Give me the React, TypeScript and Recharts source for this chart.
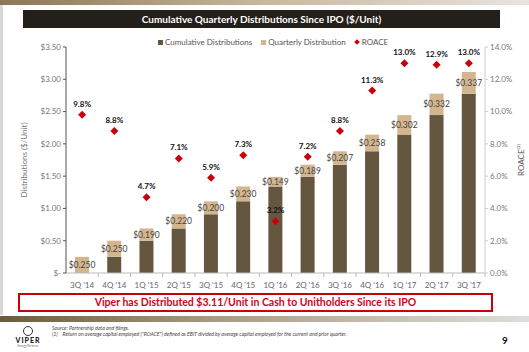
import React from 'react';
import {
  ComposedChart,
  Bar,
  Scatter,
  XAxis,
  YAxis,
  LabelList,
  Label,
} from 'recharts';

// quarters since IPO
const quarters = ["3Q '14", "4Q '14", "1Q '15", "2Q '15", "3Q '15", "4Q '15", "1Q '16", "2Q '16", "3Q '16", "4Q '16", "1Q '17", "2Q '17", "3Q '17"];
// cumulative distributions paid before each quarter ($/unit)
const cumulativePrior = [0, 0.25, 0.5, 0.69, 0.91, 1.11, 1.34, 1.489, 1.678, 1.885, 2.143, 2.445, 2.777];
// distribution for the quarter ($/unit)
const quarterlyDist = [0.25, 0.25, 0.19, 0.22, 0.2, 0.23, 0.149, 0.189, 0.207, 0.258, 0.302, 0.332, 0.337];
// ROACE (%)
const roace = [9.8, 8.8, 4.7, 7.1, 5.9, 7.3, 3.2, 7.2, 8.8, 11.3, 13.0, 12.9, 13.0];

const leftTicks = [0, 0.5, 1, 1.5, 2, 2.5, 3, 3.5];
const rightTicks = [0, 2, 4, 6, 8, 10, 12, 14];

const DARK = '#65563f';
const LIGHT = '#d4b68e';
const RED = '#c8000a';
const FONT = 'Lato, "Open Sans", sans-serif';

const data = quarters.map((q, i) => ({
  quarter: q,
  cumulative: cumulativePrior[i],
  quarterly: quarterlyDist[i],
  roace: roace[i],
}));

const RoaceDot = (props: any) => {
  const { cx, cy, payload } = props;
  if (cx == null || cy == null) return null;
  const s = 4;
  return (
    <g>
      <path
        d={`M${cx},${cy - s} L${cx + s},${cy} L${cx},${cy + s} L${cx - s},${cy} Z`}
        fill={RED}
      />
      <text
        x={cx}
        y={cy - 8}
        textAnchor="middle"
        fontSize={8}
        fontWeight={700}
        fill="#111"
        fontFamily={FONT}
      >
        {payload.roace.toFixed(1)}%
      </text>
    </g>
  );
};

const QuarterTick = (props: any) => {
  const { x, y, payload } = props;
  const half = 419 / 13 / 2;
  return (
    <g>
      <line x1={x + half} y1={y - 8} x2={x + half} y2={y - 4} stroke="#bbb" />
      <text x={x} y={y + 7} textAnchor="middle" fontSize={8} fill="#666" fontFamily={FONT}>
        {payload.value}
      </text>
    </g>
  );
};

const legendItems = [
  { label: 'Cumulative Distributions', color: DARK, shape: 'square' },
  { label: 'Quarterly Distribution', color: LIGHT, shape: 'square' },
  { label: 'ROACE', color: RED, shape: 'diamond' },
];

export default function App() {
  return (
    <div
      style={{
        position: 'absolute',
        left: 0,
        top: 0,
        width: 529,
        height: 352,
        background: '#fff',
        overflow: 'hidden',
        fontFamily: FONT,
      }}
    >
      {/* top gradient strip */}
      <div
        style={{
          position: 'absolute',
          left: 0,
          top: 0,
          width: 529,
          height: 5,
          background: 'linear-gradient(to right, #8c7656, #c9b89c 50%, #e8e4df)',
        }}
      />
      <div style={{ position: 'absolute', left: 0, top: 5, width: 3, height: 310, background: '#d8d8d8' }} />

      {/* title bar */}
      <div
        style={{
          position: 'absolute',
          left: 23,
          top: 10,
          width: 477,
          height: 18,
          background: '#231f1a',
          color: '#fff',
          fontWeight: 700,
          fontSize: 10,
          lineHeight: '18px',
          textAlign: 'center',
        }}
      >
        Cumulative Quarterly Distributions Since IPO ($/Unit)
      </div>

      {/* legend */}
      <div
        style={{
          position: 'absolute',
          left: 158,
          top: 37,
          display: 'flex',
          gap: 9,
          fontSize: 8,
          color: '#555',
          lineHeight: '10px',
        }}
      >
        {legendItems.map((it) => (
          <div key={it.label} style={{ display: 'flex', alignItems: 'center', gap: 2 }}>
            {it.shape === 'square' ? (
              <span style={{ width: 5, height: 5, background: it.color, display: 'inline-block' }} />
            ) : (
              <span
                style={{
                  width: 4,
                  height: 4,
                  background: it.color,
                  display: 'inline-block',
                  transform: 'rotate(45deg)',
                  marginRight: 1,
                }}
              />
            )}
            <span>{it.label}</span>
          </div>
        ))}
      </div>

      <div style={{ position: 'absolute', left: 0, top: 0 }}>
        <ComposedChart
          width={529}
          height={292}
          data={data}
          margin={{ top: 47, right: 0, bottom: 3, left: 0 }}
          barCategoryGap={0}
        >
          <XAxis
            dataKey="quarter"
            xAxisId={0}
            height={16}
            axisLine={{ stroke: '#bbb' }}
            tickLine={false}
            interval={0}
            tick={<QuarterTick />}
          />
          <YAxis
            yAxisId="left"
            width={66}
            domain={[0, 3.5]}
            ticks={leftTicks}
            tickFormatter={(v: number) => (v === 0 ? '$-' : `$${v.toFixed(2)}`)}
            tick={{ fontSize: 8, fill: '#777', fontFamily: FONT }}
            axisLine={{ stroke: '#555' }}
            tickLine={{ stroke: '#555' }}
            tickSize={3}
          >
            <Label
              value="Distributions ($/Unit)"
              angle={-90}
              position="insideLeft"
              offset={24}
              style={{ fontSize: 8, fill: '#777', fontFamily: FONT, textAnchor: 'middle' }}
            />
          </YAxis>
          <YAxis
            yAxisId="right"
            orientation="right"
            width={44}
            domain={[0, 14]}
            ticks={rightTicks}
            tickFormatter={(v: number) => `${v.toFixed(1)}%`}
            tick={{ fontSize: 8, fill: '#777', fontFamily: FONT }}
            axisLine={{ stroke: '#ccc' }}
            tickLine={{ stroke: '#ccc' }}
            tickSize={3}
          >
            <Label
              value="ROACE⁽¹⁾"
              angle={-90}
              position="insideRight"
              offset={8}
              style={{ fontSize: 8, fill: '#555', fontFamily: FONT, textAnchor: 'middle' }}
            />
          </YAxis>
          <Bar
            yAxisId="left"
            dataKey="cumulative"
            stackId="d"
            fill={DARK}
            barSize={14}
            isAnimationActive={false}
          />
          <Bar
            yAxisId="left"
            dataKey="quarterly"
            stackId="d"
            fill={LIGHT}
            barSize={14}
            isAnimationActive={false}
          >
            <LabelList
              dataKey="quarterly"
              position="center"
              formatter={(v: any) => `$${Number(v).toFixed(3)}`}
              style={{ fontSize: 8.5, fill: '#444', fontFamily: FONT }}
            />
          </Bar>
          <Scatter
            yAxisId="right"
            dataKey="roace"
            shape={<RoaceDot />}
            isAnimationActive={false}
          />
        </ComposedChart>
      </div>

      {/* callout box */}
      <div
        style={{
          position: 'absolute',
          left: 18,
          top: 293,
          width: 471,
          height: 15,
          border: `2px solid ${RED}`,
          color: '#d0021b',
          fontWeight: 700,
          fontSize: 10.5,
          lineHeight: '15px',
          textAlign: 'center',
        }}
      >
        Viper has Distributed $3.11/Unit in Cash to Unitholders Since its IPO
      </div>

      {/* bottom gradient strip */}
      <div
        style={{
          position: 'absolute',
          left: 0,
          top: 316,
          width: 529,
          height: 6,
          background: 'linear-gradient(to right, #6b5b3e, #a89a82 40%, #e0dedb)',
        }}
      />

      {/* logo */}
      <div style={{ position: 'absolute', left: 10, top: 326, width: 36, textAlign: 'center' }}>
        <div
          style={{
            width: 8,
            height: 8,
            borderRadius: '50%',
            border: '1.5px solid #333',
            margin: '0 auto',
          }}
        />
        <div style={{ fontSize: 7, fontWeight: 900, letterSpacing: 1, color: '#222', lineHeight: '8px' }}>VIPER</div>
        <div style={{ fontSize: 3, color: '#666', lineHeight: '4px' }}>Energy Partners</div>
      </div>

      {/* footnotes */}
      <div
        style={{
          position: 'absolute',
          left: 52,
          top: 325,
          fontSize: 5.2,
          fontStyle: 'italic',
          color: '#444',
          lineHeight: '6px',
          whiteSpace: 'nowrap',
        }}
      >
        <div>Source: Partnership data and filings.</div>
        <div>
          (1)&nbsp;&nbsp;&nbsp;&nbsp;Return on average capital employed ("ROACE") defined as EBIT divided by average
          capital employed for the current and prior quarter.
        </div>
      </div>

      <div style={{ position: 'absolute', left: 502, top: 334, fontSize: 10, fontWeight: 700, color: '#111' }}>9</div>
    </div>
  );
}
